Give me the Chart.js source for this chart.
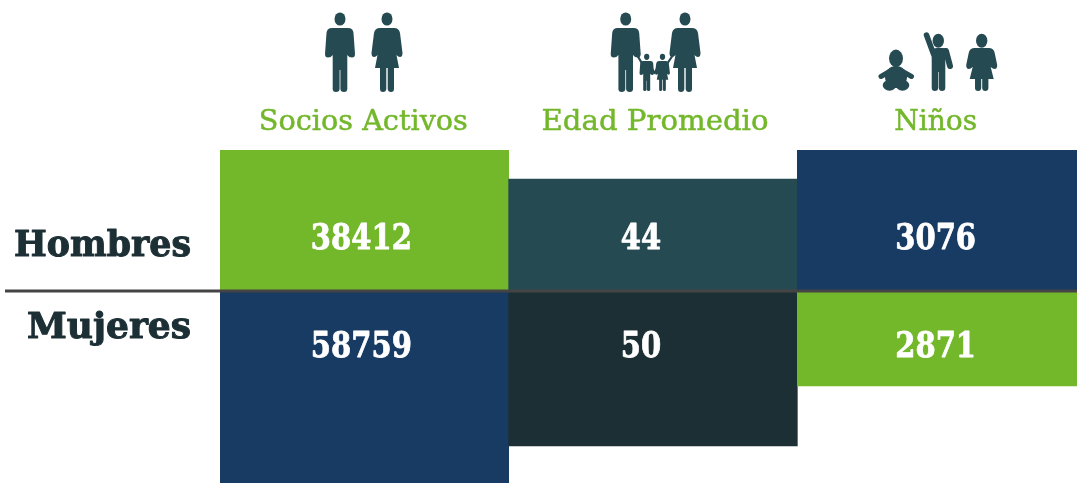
<!DOCTYPE html>
<html lang="es">
<head>
    <meta charset="UTF-8">
    <title>Socios</title>
    <script src="https://cdn.jsdelivr.net/npm/chart.js"></script>
    <style>
        body { margin: 0; background: #ffffff; overflow: hidden; }
        #chart { display: block; }
    </style>
</head>
<body>
    <canvas id="chart" width="1086" height="483"></canvas>
    <script>
        const categorias = ['Socios Activos', 'Edad Promedio', 'Niños'];
        const grupos = ['Hombres', 'Mujeres'];
        // what the cells print
        const hombresValores = [38412, 44, 3076];
        const mujeresValores = [58759, 50, 2871];
        // bar length as % of the longest bar; the picture does not scale bars to the printed numbers
        const hombresBarras = [73.4, 58.3, 73.4];
        const mujeresBarras = [-100, -80.7, -49.5];

        const verde = '#73b72b', azul = '#183b64', petroleo = '#264a52', oscuro = '#1c2f35';
        const hombresColores = [verde, petroleo, azul];
        const mujeresColores = [azul, oscuro, verde];

        // horizontal nudge from the column centre, and width each text should fill
        const ajusteTitulo = [-1, 2, -6];
        const ajusteValor = [-3, -12, -6];
        const anchoTitulo = [209, 227, 83];
        const anchoGrupo = [177, 164];

        const HOMBRE = new Path2D('M-8 16H8Q13 16 13.5 21L15 42Q15 45.5 12 45.5Q9 45.5 7.3 43V77Q7.3 80 4 80Q.6 80 .4 77V58H-.4V77Q-.6 80-4 80Q-7.3 80-7.3 77V43Q-9 45.5-12 45.5Q-15 45.5-15 42L-13.5 21Q-13 16-8 16Z');
        const MUJER = new Path2D('M-7 16H7Q12 16 13 21L15.5 41Q15.5 45 13 45Q11 45 9.5 43L12 56H7V77Q7 80 4 80Q1 80 .7 77V56H-.7V77Q-1 80-4 80Q-7 80-7 77V56H-12L-9.5 43Q-11 45-13 45Q-15.5 45-15.5 41L-13 21Q-12 16-7 16Z');
        const NINA = new Path2D('M-7 14H7Q12 14 13 19L15.5 31Q15.5 35 13 35Q11 35 9 33L12 45H6.7V54Q6.7 57 3.5 57Q.7 57 .5 54V45H-.5V54Q-.7 57-3.5 57Q-6.7 57-6.7 54V45H-12L-9 33Q-11 35-13 35Q-15.5 35-15.5 31L-13 19Q-12 14-7 14Z');

        function persona(ctx, figura, x, y, sx, sy) {
            ctx.save();
            ctx.translate(x, y);
            ctx.scale(sx, sy);
            ctx.fillStyle = petroleo;
            ctx.beginPath();
            ctx.ellipse(0, 7, 5.5, 6.6, 0, 0, Math.PI * 2);
            ctx.fill();
            ctx.fill(figura);
            ctx.restore();
        }

        function linea(ctx, ancho, puntos) {
            ctx.strokeStyle = petroleo;
            ctx.lineWidth = ancho;
            ctx.lineCap = 'round';
            ctx.lineJoin = 'round';
            ctx.beginPath();
            puntos.forEach((p, i) => i ? ctx.lineTo(p[0], p[1]) : ctx.moveTo(p[0], p[1]));
            ctx.stroke();
        }

        function dibujarIconos(ctx) {
            persona(ctx, HOMBRE, 340, 12, 1, 1);
            persona(ctx, MUJER, 387, 12, 1, 1);

            // family
            persona(ctx, HOMBRE, 625.7, 12, 1, 1);
            persona(ctx, MUJER, 685, 12, 1, 1);
            persona(ctx, HOMBRE, 646.7, 53.5, 0.48, 0.47);
            persona(ctx, MUJER, 662.5, 53.5, 0.48, 0.47);
            linea(ctx, 2.2, [[637, 55], [643, 65]]);
            linea(ctx, 2.2, [[673, 55], [667, 64]]);
            linea(ctx, 2.2, [[651, 67], [654.5, 73], [658, 67]]);

            // baby
            ctx.fillStyle = petroleo;
            ctx.beginPath();
            ctx.ellipse(896, 58.3, 7, 8.7, 0, 0, Math.PI * 2);
            ctx.fill();
            ctx.beginPath();
            ctx.ellipse(896, 77, 11, 11, 0, 0, Math.PI * 2);
            ctx.fill();
            ctx.beginPath();
            ctx.ellipse(889.5, 85.3, 6.8, 5.4, 0, 0, Math.PI * 2);
            ctx.ellipse(902.5, 85.3, 6.8, 5.4, 0, 0, Math.PI * 2);
            ctx.fill();
            linea(ctx, 5, [[881, 76.5], [892, 70], [900, 70], [911.5, 76.5]]);

            // boy with raised arm
            ctx.beginPath();
            ctx.ellipse(938.3, 40.7, 5.7, 7, 0, 0, Math.PI * 2);
            ctx.fill();
            linea(ctx, 5.5, [[926.5, 35], [933.5, 54]]);
            linea(ctx, 6, [[946, 51], [950, 66]]);
            ctx.fillStyle = petroleo;
            ctx.fill(new Path2D('M931.5 50Q933 48 937 48H943Q949 48 949 54L945.3 60V88Q945.3 91 942 91Q939 91 938.8 88V72H938.2V88Q938 91 935 91Q931.7 91 931.7 88V60Z'));

            // girl
            ctx.beginPath();
            ctx.ellipse(981.7, 40.7, 5.7, 7, 0, 0, Math.PI * 2);
            ctx.fill();
            ctx.save();
            ctx.translate(981.7, 34);
            ctx.fill(NINA);
            ctx.restore();
        }

        function escalaAjuste(ctx, font, muestra, ancho) {
            ctx.font = font;
            return ancho / ctx.measureText(muestra).width;
        }

        function texto(ctx, str, x, y, font, color, sx, align, grueso) {
            ctx.save();
            ctx.font = font;
            ctx.fillStyle = color;
            ctx.textAlign = align || 'center';
            ctx.textBaseline = 'alphabetic';
            ctx.translate(x, y);
            ctx.scale(sx, 1);
            ctx.fillText(str, 0, 0);
            if (grueso) {
                ctx.strokeStyle = color;
                ctx.lineWidth = grueso;
                ctx.lineJoin = 'round';
                ctx.strokeText(str, 0, 0);
            }
            ctx.restore();
        }

        const decoracion = {
            id: 'decoracion',
            afterDraw(chart) {
                const ctx = chart.ctx;
                const x = chart.scales.x, y = chart.scales.y;
                const cero = y.getPixelForValue(0);

                ctx.save();
                ctx.strokeStyle = '#444444';
                ctx.lineWidth = 3;
                ctx.beginPath();
                ctx.moveTo(5, cero);
                ctx.lineTo(chart.width, cero);
                ctx.stroke();
                ctx.restore();

                const fTitulo = "28.5px 'DejaVu Serif'";
                const fValor = "bold 35px 'DejaVu Serif'";
                const fGrupo = "bold 35px 'DejaVu Serif'";
                const sxValor = escalaAjuste(ctx, fValor, String(hombresValores[0]), 101);

                categorias.forEach((c, i) => {
                    const cx = x.getPixelForValue(i);
                    const sxTitulo = escalaAjuste(ctx, fTitulo, c, anchoTitulo[i]);
                    texto(ctx, c, cx + ajusteTitulo[i], 130, fTitulo, verde, sxTitulo, 'center', 0.5);
                    texto(ctx, String(hombresValores[i]), cx + ajusteValor[i], 248.5, fValor, '#ffffff', sxValor, 'center', 0.8);
                    texto(ctx, String(mujeresValores[i]), cx + ajusteValor[i], 357, fValor, '#ffffff', sxValor, 'center', 0.8);
                });

                texto(ctx, grupos[0], 191, 256, fGrupo, oscuro, escalaAjuste(ctx, fGrupo, grupos[0], anchoGrupo[0]), 'right', 1);
                texto(ctx, grupos[1], 191, 338, fGrupo, oscuro, escalaAjuste(ctx, fGrupo, grupos[1], anchoGrupo[1]), 'right', 1);

                dibujarIconos(ctx);
            }
        };

        new Chart(document.getElementById('chart'), {
            type: 'bar',
            data: {
                labels: categorias,
                datasets: [
                    { label: grupos[0], data: hombresBarras, backgroundColor: hombresColores, borderWidth: 0 },
                    { label: grupos[1], data: mujeresBarras, backgroundColor: mujeresColores, borderWidth: 0 }
                ]
            },
            options: {
                responsive: false,
                animation: false,
                layout: { padding: { left: 220, top: 150 } },
                datasets: { bar: { categoryPercentage: 1, barPercentage: 1 } },
                plugins: { legend: { display: false }, tooltip: { enabled: false } },
                scales: {
                    x: { display: false, stacked: true },
                    y: { display: false, stacked: true, min: -100, max: 73.4 }
                }
            },
            plugins: [decoracion]
        });
    </script>
</body>
</html>
